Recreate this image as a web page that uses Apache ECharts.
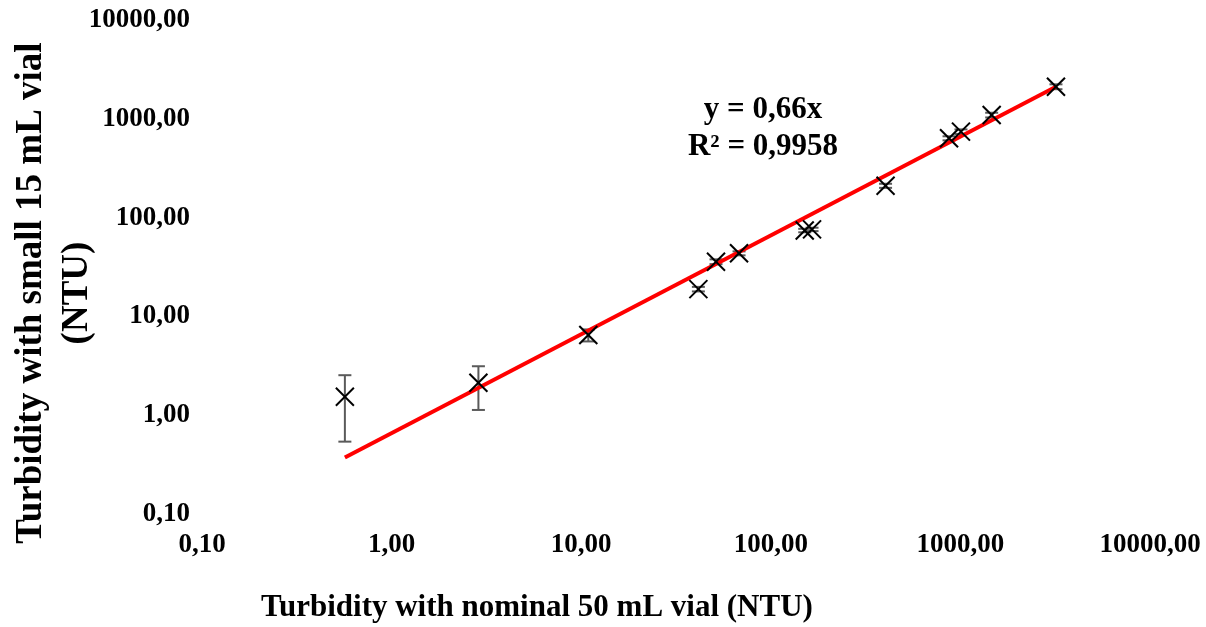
<!DOCTYPE html>
<html>
<head>
<meta charset="utf-8">
<script src="https://cdn.jsdelivr.net/npm/echarts@6/dist/echarts.min.js"></script>
<style>
html,body{margin:0;padding:0;background:#fff;}
#chart{width:1206px;height:627px;}
</style>
</head>
<body>
<div id="chart"></div>
<script>
// Data (log-log)
var xValues = [0.567, 2.87, 10.9, 41.5, 51.4, 68, 151, 165, 403, 871, 1007, 1462, 3192];
var yValues = [1.54, 2.13, 6.48, 18.9, 35.8, 43.5, 74, 76, 210, 635, 741, 1092, 2113];
var yErrors = [1.0, 1.0, 0.9, 1.0, 2, 2, 3, 3, 10, 30, 40, 60, 120];
var trendX = [0.567, 3192];
var trendY = [0.374, 2107];
var tickValues = [0.1, 1, 10, 100, 1000, 10000];
var equationLines = ['y = 0,66x', 'R² = 0,9958'];
var xTitle = 'Turbidity with nominal 50 mL vial (NTU)';
var yTitle = 'Turbidity with small 15 mL vial\n(NTU)';

var FONT = '"Liberation Serif", "Times New Roman", serif';

function fmt(v) { return Number(v).toFixed(2).replace('.', ','); }

var pts = xValues.map(function (x, i) { return [x, yValues[i], yErrors[i]]; });
var trend = trendX.map(function (x, i) { return [x, trendY[i]]; });

var chart = echarts.init(document.getElementById('chart'), null, {renderer: 'canvas'});

var labelStyle = {fontFamily: FONT, fontWeight: 'bold', fontSize: 27, color: '#000'};

chart.setOption({
  backgroundColor: '#fff',
  animation: false,
  grid: {left: 202, right: 56, top: 20, bottom: 113, containLabel: false},
  xAxis: {
    type: 'log', logBase: 10, min: tickValues[0], max: tickValues[tickValues.length - 1],
    axisLine: {show: false}, axisTick: {show: false}, splitLine: {show: false},
    axisLabel: Object.assign({margin: 18, formatter: fmt, showMinLabel: true, showMaxLabel: true}, labelStyle)
  },
  yAxis: {
    type: 'log', logBase: 10, min: tickValues[0], max: tickValues[tickValues.length - 1],
    axisLine: {show: false}, axisTick: {show: false}, splitLine: {show: false},
    axisLabel: Object.assign({margin: 12, formatter: fmt, showMinLabel: true, showMaxLabel: true}, labelStyle)
  },
  series: [
    {
      type: 'custom',
      name: 'errors',
      z: 2,
      data: pts,
      renderItem: function (params, api) {
        var x = api.value(0), y = api.value(1), e = api.value(2);
        var top = api.coord([x, y + e]);
        var bot = api.coord([x, Math.max(y - e, 0.0001)]);
        var cw = 6.5;
        var st = {stroke: '#5a5a5a', lineWidth: 2};
        return {type: 'group', children: [
          {type: 'line', shape: {x1: top[0], y1: top[1], x2: bot[0], y2: bot[1]}, style: st},
          {type: 'line', shape: {x1: top[0] - cw, y1: top[1], x2: top[0] + cw, y2: top[1]}, style: st},
          {type: 'line', shape: {x1: bot[0] - cw, y1: bot[1], x2: bot[0] + cw, y2: bot[1]}, style: st}
        ]};
      }
    },
    {
      type: 'line',
      name: 'trend',
      z: 3,
      data: trend,
      symbol: 'none',
      lineStyle: {color: '#ff0000', width: 4}
    },
    {
      type: 'custom',
      name: 'points',
      z: 4,
      data: pts,
      renderItem: function (params, api) {
        var c = api.coord([api.value(0), api.value(1)]);
        var h = 9;
        var st = {stroke: '#000', lineWidth: 2};
        return {type: 'group', children: [
          {type: 'line', shape: {x1: c[0] - h, y1: c[1] - h, x2: c[0] + h, y2: c[1] + h}, style: st},
          {type: 'line', shape: {x1: c[0] - h, y1: c[1] + h, x2: c[0] + h, y2: c[1] - h}, style: st}
        ]};
      }
    }
  ],
  graphic: [
    {
      type: 'text', x: 763, y: 128,
      style: {text: equationLines.join('\n'), fontFamily: FONT, fontWeight: 'bold', fontSize: 31,
        lineHeight: 37, fill: '#000', align: 'center', verticalAlign: 'middle'}
    },
    {
      type: 'text', x: 537, y: 608,
      style: {text: xTitle, fontFamily: FONT, fontWeight: 'bold', fontSize: 31, fill: '#000',
        align: 'center', verticalAlign: 'middle'}
    },
    {
      type: 'text', x: 54, y: 293, rotation: Math.PI / 2,
      style: {text: yTitle, fontFamily: FONT, fontWeight: 'bold', fontSize: 37, lineHeight: 46, fill: '#000',
        align: 'center', verticalAlign: 'middle'}
    }
  ]
});
</script>
</body>
</html>
